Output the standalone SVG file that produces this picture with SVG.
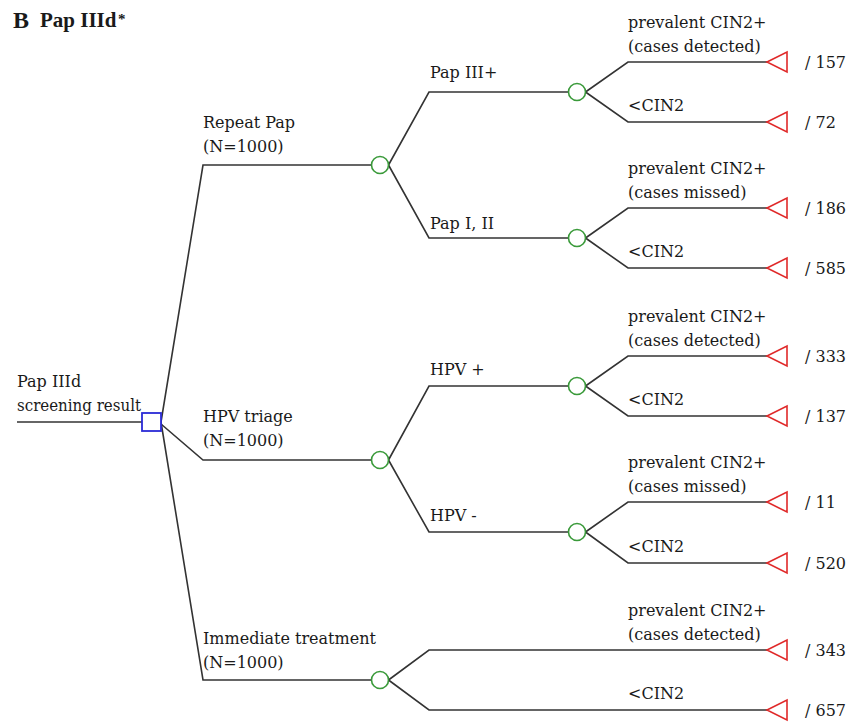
<svg xmlns="http://www.w3.org/2000/svg" width="858" height="722" viewBox="0 0 858 722">
<style>
.t{font-family:"DejaVu Serif","Liberation Serif",serif;font-size:16px;fill:#1a1a1a}
.ttl{font-family:"Liberation Serif","Times New Roman",serif;font-weight:bold;fill:#1a1a1a}
.ln{fill:none;stroke:#333;stroke-width:1.6}
.ch{fill:#fff;stroke:#3a9a3a;stroke-width:1.6}
.dc{fill:#fff;stroke:#2b2bd6;stroke-width:1.8}
.tm{fill:#fff;stroke:#e02a2a;stroke-width:1.6}
</style>
<rect width="858" height="722" fill="#fff"/>
<g id="title">
<text class="ttl" x="13" y="28" font-size="24">B</text>
<text class="ttl" x="40" y="27" font-size="21">Pap IIId</text>
<text class="ttl" x="118" y="24" font-size="15">*</text>
</g>
<g id="connectors">
<path class="ln" d="M17,422 H142"/>
<path class="ln" d="M161,422 L203,165 H371.5"/>
<path class="ln" d="M161,424 L203,460 H371.5"/>
<path class="ln" d="M161,422 L203,680 H371.5"/>
<path class="ln" d="M388.5,165 L429,92 H568.5"/>
<path class="ln" d="M388.5,165 L429,238 H568.5"/>
<path class="ln" d="M388.5,460 L429,386 H568.5"/>
<path class="ln" d="M388.5,460 L429,532 H568.5"/>
<path class="ln" d="M388.5,680 L429,650 H767"/>
<path class="ln" d="M388.5,680 L429,710 H767"/>
<path class="ln" d="M585.5,92 L628,62 H767"/>
<path class="ln" d="M585.5,92 L628,122 H767"/>
<path class="ln" d="M585.5,238 L628,208 H767"/>
<path class="ln" d="M585.5,238 L628,268 H767"/>
<path class="ln" d="M585.5,386 L628,356 H767"/>
<path class="ln" d="M585.5,386 L628,416 H767"/>
<path class="ln" d="M585.5,532 L628,502 H767"/>
<path class="ln" d="M585.5,532 L628,563 H767"/>
</g>
<g id="branch-labels">
<text class="t" x="203" y="128">Repeat Pap</text>
<text class="t" x="203" y="152">(N=1000)</text>
<text class="t" x="203" y="422">HPV triage</text>
<text class="t" x="203" y="446">(N=1000)</text>
<text class="t" x="203" y="644">Immediate treatment</text>
<text class="t" x="203" y="668">(N=1000)</text>
<text class="t" x="430" y="78">Pap III+</text>
<text class="t" x="430" y="229">Pap I, II</text>
<text class="t" x="430" y="375">HPV +</text>
<text class="t" x="430" y="521">HPV -</text>
<text class="t" x="628" y="28">prevalent CIN2+</text>
<text class="t" x="628" y="52">(cases detected)</text>
<text class="t" x="628" y="111">&lt;CIN2</text>
<text class="t" x="628" y="174">prevalent CIN2+</text>
<text class="t" x="628" y="198">(cases missed)</text>
<text class="t" x="628" y="257">&lt;CIN2</text>
<text class="t" x="628" y="322">prevalent CIN2+</text>
<text class="t" x="628" y="346">(cases detected)</text>
<text class="t" x="628" y="405">&lt;CIN2</text>
<text class="t" x="628" y="468">prevalent CIN2+</text>
<text class="t" x="628" y="492">(cases missed)</text>
<text class="t" x="628" y="552">&lt;CIN2</text>
<text class="t" x="628" y="616">prevalent CIN2+</text>
<text class="t" x="628" y="640">(cases detected)</text>
<text class="t" x="628" y="699">&lt;CIN2</text>
</g>
<g id="root">
<text class="t" x="17" y="387">Pap IIId</text>
<text class="t" x="17" y="411" textLength="124" lengthAdjust="spacingAndGlyphs">screening result</text>
<rect class="dc" x="142" y="413" width="19" height="18"/>
</g>
<g id="chance-repeat"><circle class="ch" cx="380" cy="165" r="8.5"/></g>
<g id="chance-hpv"><circle class="ch" cx="380" cy="460" r="8.5"/></g>
<g id="chance-immediate"><circle class="ch" cx="380" cy="680" r="8.5"/></g>
<g id="chance-pap3"><circle class="ch" cx="577" cy="92" r="8.5"/></g>
<g id="chance-pap12"><circle class="ch" cx="577" cy="238" r="8.5"/></g>
<g id="chance-hpvpos"><circle class="ch" cx="577" cy="386" r="8.5"/></g>
<g id="chance-hpvneg"><circle class="ch" cx="577" cy="532" r="8.5"/></g>
<g id="term-1"><polygon class="tm" points="767,62 787,52 787,72"/><text class="t" x="805" y="68">/ 157</text></g>
<g id="term-2"><polygon class="tm" points="767,122 787,112 787,132"/><text class="t" x="805" y="128">/ 72</text></g>
<g id="term-3"><polygon class="tm" points="767,208 787,198 787,218"/><text class="t" x="805" y="214">/ 186</text></g>
<g id="term-4"><polygon class="tm" points="767,268 787,258 787,278"/><text class="t" x="805" y="274">/ 585</text></g>
<g id="term-5"><polygon class="tm" points="767,356 787,346 787,366"/><text class="t" x="805" y="362">/ 333</text></g>
<g id="term-6"><polygon class="tm" points="767,416 787,406 787,426"/><text class="t" x="805" y="422">/ 137</text></g>
<g id="term-7"><polygon class="tm" points="767,502 787,492 787,512"/><text class="t" x="805" y="508">/ 11</text></g>
<g id="term-8"><polygon class="tm" points="767,563 787,553 787,573"/><text class="t" x="805" y="569">/ 520</text></g>
<g id="term-9"><polygon class="tm" points="767,650 787,640 787,660"/><text class="t" x="805" y="656">/ 343</text></g>
<g id="term-10"><polygon class="tm" points="767,710 787,700 787,720"/><text class="t" x="805" y="716">/ 657</text></g>
</svg>
